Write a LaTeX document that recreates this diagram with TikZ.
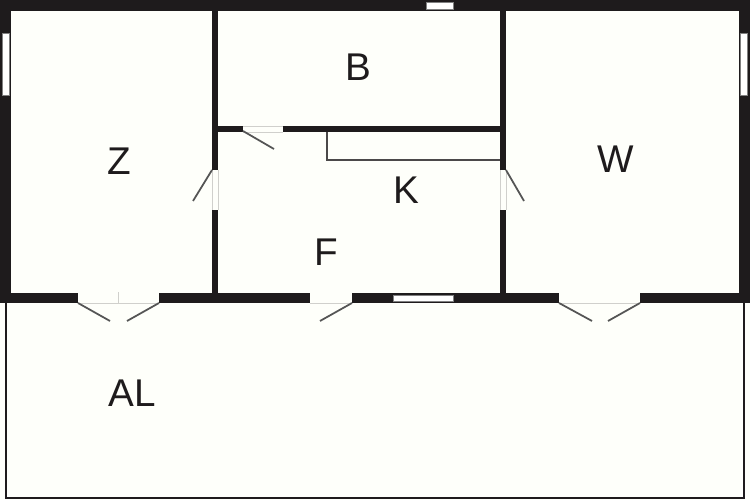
\documentclass[tikz,border=0pt]{standalone}
\usepackage{fontspec}
\setmainfont{Liberation Sans}
\definecolor{wallcol}{HTML}{1E1B1C}
\definecolor{floorcol}{HTML}{FEFFFA}
\definecolor{doorcol}{HTML}{555555}
\definecolor{sillcol}{HTML}{D0D0CC}
\tikzset{
  wall/.style={fill=wallcol,draw=none},
  windowpane/.style={fill=white,draw=gray,line width=0.2pt},
  doorleaf/.style={draw=doorcol,line width=1pt},
  sill/.style={draw=sillcol,line width=0.4pt},
  thinwall/.style={draw=wallcol!80,line width=0.9pt},
  roomlabel/.style={font=\fontsize{22}{22}\selectfont,text=wallcol,inner sep=0pt}
}
\begin{document}
\begin{tikzpicture}[x=0.02cm,y=-0.02cm]
\useasboundingbox (0,0) rectangle (750,500);
\fill[floorcol] (0,0) rectangle (750,500);

% Terrace outline below the house.
\draw[draw=wallcol,line width=1.2pt] (6,303) -- (6,498) -- (744,498) -- (744,303);

% Outer walls.
\fill[wall] (0,0) rectangle (750,11);
\fill[wall] (0,0) rectangle (11,303);
\fill[wall] (739,0) rectangle (750,303);
\fill[wall] (0,293) rectangle (78,303);
\fill[wall] (159,293) rectangle (310,303);
\fill[wall] (352,293) rectangle (559,303);
\fill[wall] (640,293) rectangle (750,303);

% Inner walls.
\fill[wall] (212,11) rectangle (218,170);
\fill[wall] (212,210) rectangle (218,293);
\fill[wall] (500,11) rectangle (506,170);
\fill[wall] (500,210) rectangle (506,293);
\fill[wall] (218,126) rectangle (243,132);
\fill[wall] (283,126) rectangle (500,132);

% Kitchen counter.
\draw[thinwall] (327,132) -- (327,160) -- (500,160);

% Windows.
\filldraw[windowpane] (426,2.5) rectangle (453,9);
\filldraw[windowpane] (2.5,33) rectangle (9.5,95);
\filldraw[windowpane] (740.5,33) rectangle (747.5,95);
\filldraw[windowpane] (393,295) rectangle (453,301);

% Door openings.
\draw[sill] (78,303) -- (159,303);
\draw[sill] (118,292) -- (118,303);
\draw[sill] (310,303) -- (352,303);
\draw[sill] (559,303) -- (640,303);
\draw[sill] (243,126) -- (283,126);
\draw[sill] (243,132) -- (283,132);
\draw[sill] (212,170) -- (212,210);
\draw[sill] (218,170) -- (218,210);
\draw[sill] (500,170) -- (500,210);
\draw[sill] (506,170) -- (506,210);

% Door leaves.
\draw[doorleaf] (78,303) -- (110,321);
\draw[doorleaf] (159,303) -- (127,321);
\draw[doorleaf] (352,303) -- (320,321);
\draw[doorleaf] (559,303) -- (592,321);
\draw[doorleaf] (640,303) -- (608,321);
\draw[doorleaf] (243,131) -- (274,149);
\draw[doorleaf] (212,170) -- (193,201);
\draw[doorleaf] (506,170) -- (524,201);

\node[roomlabel] (roomB) at (358.5,67) {B};
\node[roomlabel] (roomZ) at (119,161) {Z};
\node[roomlabel] (roomW) at (616,159) {W};
\node[roomlabel] (roomK) at (406.5,190) {K};
\node[roomlabel] (roomF) at (326.5,252) {F};
\node[roomlabel] (roomAL) at (132,393) {AL};
\end{tikzpicture}
\end{document}
